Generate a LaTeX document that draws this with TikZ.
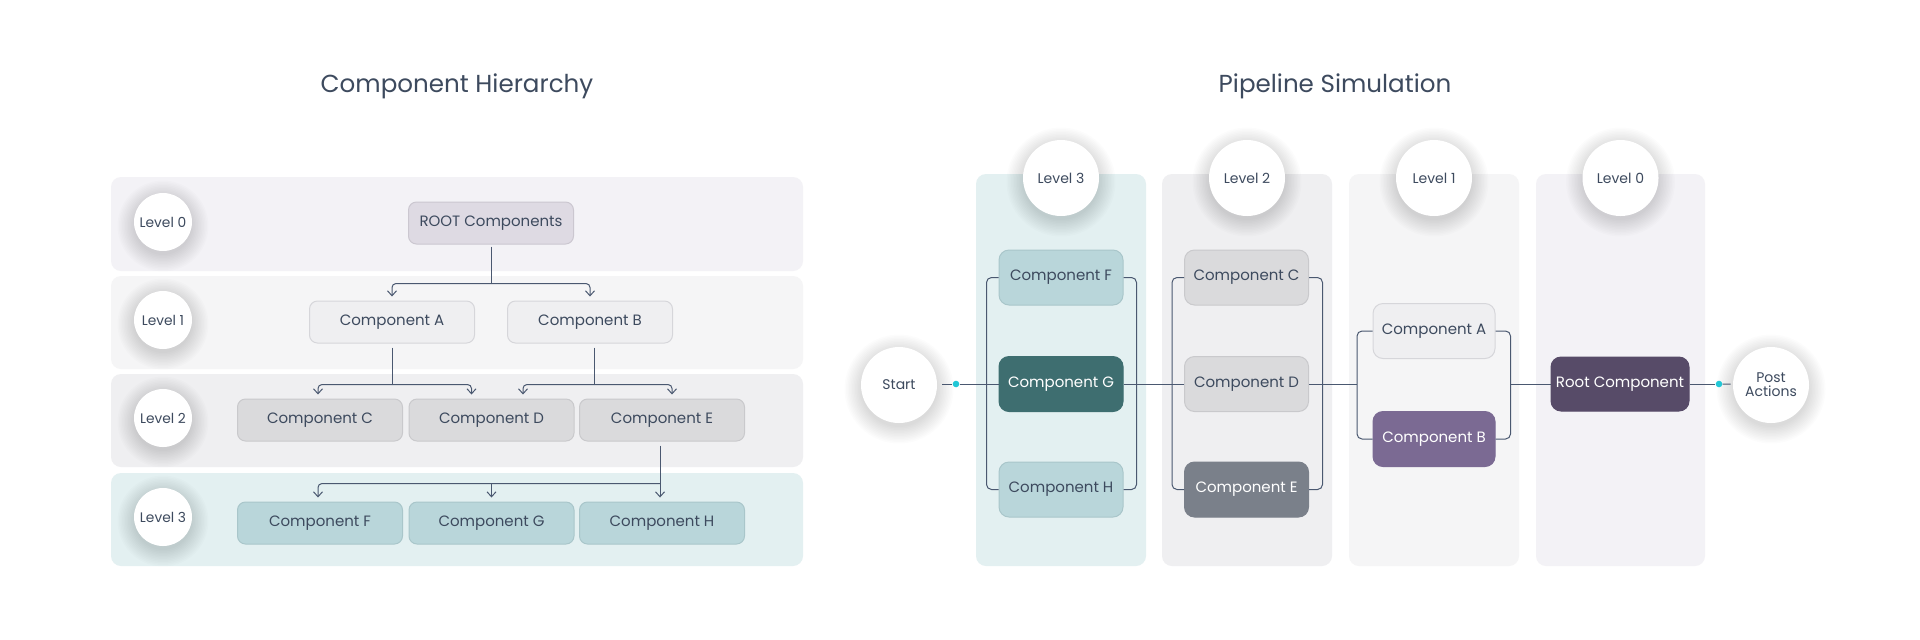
\documentclass[tikz,border=0pt]{standalone}
\usepackage{fontspec}
\setmainfont{Poppins}
\usetikzlibrary{arrows.meta,calc}
\definecolor{txt}{HTML}{3D4A5E}
\definecolor{lnc}{HTML}{4A5870}
\definecolor{bandA}{HTML}{F3F2F6}
\definecolor{bandB}{HTML}{F5F5F6}
\definecolor{bandC}{HTML}{EFEFF1}
\definecolor{bandD}{HTML}{E3F0F1}
\definecolor{rootf}{HTML}{DEDAE3}
\definecolor{rootd}{HTML}{CBC7D0}
\definecolor{lonef}{HTML}{EFEFF1}
\definecolor{loned}{HTML}{D6D6DA}
\definecolor{ltwof}{HTML}{DADADC}
\definecolor{ltwod}{HTML}{C9C9CC}
\definecolor{lthrf}{HTML}{B9D6DA}
\definecolor{lthrd}{HTML}{A9C6CA}
\definecolor{gdark}{HTML}{3E6E70}
\definecolor{egray}{HTML}{7A808A}
\definecolor{bpurp}{HTML}{7B6A93}
\definecolor{rpurp}{HTML}{574B68}
\definecolor{cyandot}{HTML}{22C7D6}
\newcommand{\halo}[3]{%
  \foreach \k in {0,...,11}{\fill[black,opacity=0.011] (#1,#2+4) circle[radius={#3+\k*0.75pt}];}}
\tikzset{
  band/.style={rounded corners=5pt},
  hn/.style={rectangle, rounded corners=4pt, minimum width=82.5pt, minimum height=21pt, inner sep=0pt, font=\fontsize{7.5}{9}\selectfont, text=txt, line width=0.5pt},
  pn/.style={rectangle, rounded corners=5pt, minimum width=62pt, minimum height=27.5pt, inner sep=0pt, font=\fontsize{7.5}{9}\selectfont, text=txt, line width=0.5pt},
  lvl/.style={circle, fill=white, minimum size=29pt, inner sep=0pt, font=\fontsize{6.9}{8}\selectfont, text=txt},
  plvl/.style={circle, fill=white, minimum size=38pt, inner sep=0pt, font=\fontsize{7}{7}\selectfont, text=txt, align=center},
  ttl/.style={font=\fontsize{12.3}{14}\selectfont, text=txt},
  ln/.style={draw=lnc, line width=0.5pt},
  arr/.style={ln, -{Straight Barb[length=2.5pt,width=4.5pt]}, rounded corners=2pt, shorten >=2pt},
  rc/.style={rounded corners=2.5pt},
  dotn/.style={circle, fill=cyandot, minimum size=3.3pt, inner sep=0pt}
}
\begin{document}
\begin{tikzpicture}[x=0.5pt,y=-0.5pt]
\useasboundingbox (0,0) rectangle (1920,639);
\fill[white] (0,0) rectangle (1920,639);

% ---------- titles
\node[ttl] (t1) at (457,86) {Component Hierarchy};
\node[ttl] (t2) at (1335,86) {Pipeline Simulation};

% ---------- left bands
\fill[band, bandA] (111,177) rectangle (803,271);
\fill[band, bandB] (111,276) rectangle (803,369);
\fill[band, bandC] (111,374) rectangle (803,467);
\fill[band, bandD] (111,473) rectangle (803,566);

\halo{163}{222}{14.5pt}
\halo{163}{320}{14.5pt}
\halo{163}{418}{14.5pt}
\halo{163}{517}{14.5pt}
\node[lvl] (l0) at (163,222) {Level 0};
\node[lvl] (l1) at (163,320) {Level 1};
\node[lvl] (l2) at (163,418) {Level 2};
\node[lvl] (l3) at (163,517) {Level 3};

% ---------- left nodes
\node[hn, fill=rootf, draw=rootd] (hR) at (491,223) {ROOT Components};
\node[hn, fill=lonef, draw=loned] (hA) at (392,322) {Component A};
\node[hn, fill=lonef, draw=loned] (hB) at (590,322) {Component B};
\node[hn, fill=ltwof, draw=ltwod] (hC) at (320,420) {Component C};
\node[hn, fill=ltwof, draw=ltwod] (hD) at (491.5,420) {Component D};
\node[hn, fill=ltwof, draw=ltwod] (hE) at (662,420) {Component E};
\node[hn, fill=lthrf, draw=lthrd] (hF) at (320,523) {Component F};
\node[hn, fill=lthrf, draw=lthrd] (hG) at (491.5,523) {Component G};
\node[hn, fill=lthrf, draw=lthrd] (hH) at (662,523) {Component H};

% ---------- left connectors
\draw[ln] ([yshift=-1pt]hR.south) -- ++(0,37) coordinate (j0);
\draw[arr] (j0) -| (hA.north);
\draw[arr] (j0) -| (hB.north);
\draw[ln] ([yshift=-2pt]hA.south) -- ++(0,37) coordinate (j1);
\draw[arr] (j1) -| ([xshift=-1pt]hC.north);
\draw[arr] (j1) -| ([xshift=-10pt]hD.north);
\draw[ln] ([xshift=2pt,yshift=-2pt]hB.south) -- ++(0,37) coordinate (j2);
\draw[arr] (j2) -| ([xshift=15.75pt]hD.north);
\draw[arr] (j2) -| ([xshift=5pt]hE.north);
\coordinate (j3) at ($([xshift=-1pt]hE.south)+(0,42)$);
\draw[arr] ([xshift=-1pt,yshift=-2pt]hE.south) -- ([xshift=-1pt]hH.north);
\draw[arr] (j3) -| ([xshift=-1pt]hF.north);
\draw[arr] (j3 -| hG.north) -- (hG.north);

% ---------- right columns
\fill[band, bandD] (976,174) rectangle (1146,566);
\fill[band, bandC] (1162,174) rectangle (1332,566);
\fill[band, bandB] (1349,174) rectangle (1519,566);
\fill[band, bandA] (1536,174) rectangle (1705,566);

\halo{1061}{178}{19pt}
\halo{1247}{178}{19pt}
\halo{1434}{178}{19pt}
\halo{1620.5}{178}{19pt}
\halo{899}{385}{19pt}
\halo{1771}{385}{19pt}
\node[plvl] (p3) at (1061,178) {Level 3};
\node[plvl] (p2) at (1247,178) {Level 2};
\node[plvl] (p1) at (1434,178) {Level 1};
\node[plvl] (p0) at (1620.5,178) {Level 0};
\node[plvl] (st) at (899,385) {Start};
\node[plvl] (po) at (1771,385) {Post\\Actions};

% ---------- right nodes
\node[pn, fill=lthrf, draw=lthrd] (pF) at (1061,277.5) {Component F};
\node[pn, fill=gdark, draw=gdark, text=white] (pG) at (1061,384) {Component G};
\node[pn, fill=lthrf, draw=lthrd] (pH) at (1061,489.5) {Component H};
\node[pn, fill=ltwof, draw=ltwod] (pC) at (1246.5,277.5) {Component C};
\node[pn, fill=ltwof, draw=ltwod] (pD) at (1246.5,384) {Component D};
\node[pn, fill=egray, draw=egray, text=white] (pE) at (1246.5,489.5) {Component E};
\node[pn, fill=lonef, draw=loned, minimum width=61pt] (pA) at (1434,331) {Component A};
\node[pn, fill=bpurp, draw=bpurp, text=white, minimum width=61pt] (pB) at (1434,439) {Component B};
\node[pn, fill=rpurp, draw=rpurp, text=white, minimum width=69pt, minimum height=27pt] (pR) at (1620,384) {Root Component};
\node[dotn] (d1) at (956,384) {};
\node[dotn] (d2) at (1719,384) {};

% ---------- right connectors
\draw[ln] (st.east |- d1) ++(2.5pt,0) -- (d1);
\draw[ln] (d1) -- (pG);
\draw[ln, rc] (pF.west) -| ([xshift=-6pt]pH.west) -- (pH.west);
\draw[ln, rc] (pF.east) -| ([xshift=6.5pt]pH.east) -- (pH.east);
\draw[ln] (pG) -- (pD);
\draw[ln, rc] (pC.west) -| ([xshift=-6pt]pE.west) -- (pE.west);
\draw[ln, rc] (pC.east) -| ([xshift=6.75pt]pE.east) -- (pE.east);
\draw[ln] (pD.east) -- ([xshift=-7.75pt]pA.west |- pD.east);
\draw[ln, rc] (pA.west) -| ([xshift=-7.75pt]pB.west) -- (pB.west);
\draw[ln, rc] (pA.east) -| ([xshift=7.5pt]pB.east) -- (pB.east);
\draw[ln] ([xshift=7.5pt]pA.east |- pR.west) -- (pR.west);
\draw[ln] (pR) -- (d2);
\draw[ln, shorten >=1pt] (d2) -- (po);
\end{tikzpicture}
\end{document}
